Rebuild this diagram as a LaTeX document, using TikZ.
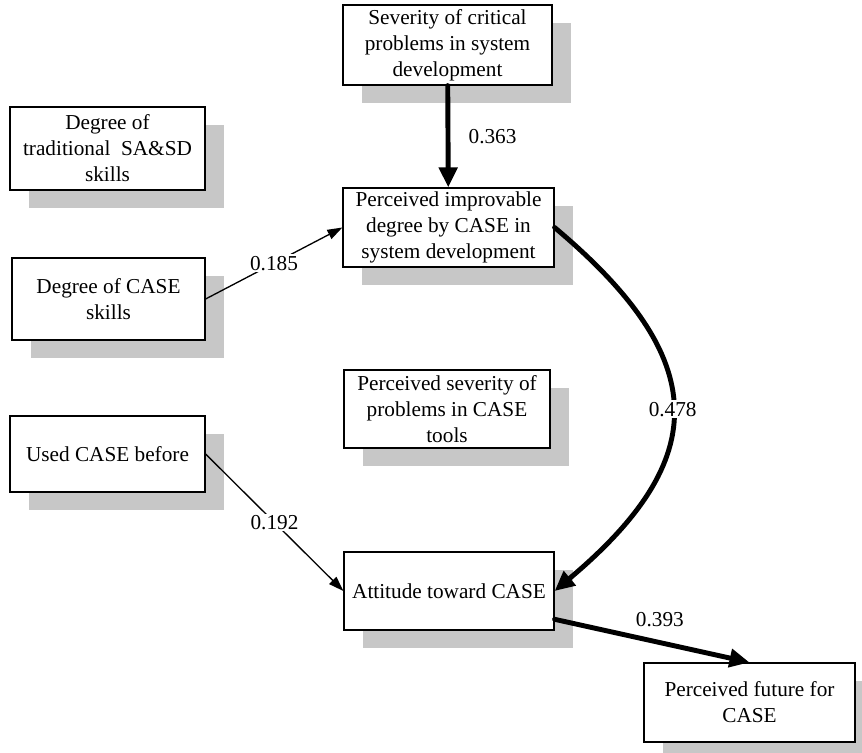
\documentclass[tikz,border=0pt]{standalone}
\usepackage{fontspec}
\setmainfont{Liberation Serif}
\usetikzlibrary{arrows.meta, shadows, positioning}

\begin{document}
\begin{tikzpicture}[x=0.02cm, y=-0.02cm,
    font=\fontsize{12.1}{14.8}\selectfont,
    block/.style={rectangle, draw, line width=0.7pt, fill=white, align=center, inner sep=2pt,
        drop shadow={shadow xshift=0.38cm, shadow yshift=-0.36cm, fill=black!22, opacity=1}},
    arrow/.style={line width=0.75pt, -{Triangle[length=0.3cm, width=0.2cm]}},
    thickarrow/.style={line width=2.8pt, line cap=round, -{Triangle[length=0.4cm, width=0.36cm]}},
    coef/.style={fill=white, inner sep=1pt}]
    \useasboundingbox (0,0) rectangle (862,753);
    \node [block, minimum width=4.18cm, minimum height=1.6cm] (sev) at (447.5,45) {Severity of critical\\problems in system\\development};
    \node [block, minimum width=3.9cm, minimum height=1.66cm] (trad) at (107.5,148.5) {Degree of\\traditional\ \ SA\&SD\\skills};
    \node [block, minimum width=4.22cm, minimum height=1.58cm] (impr) at (448.5,227.5) {Perceived improvable\\degree by CASE in\\system development};
    \node [block, minimum width=3.86cm, minimum height=1.64cm] (skill) at (108.5,299) {Degree of CASE\\skills};
    \node [block, minimum width=4.12cm, minimum height=1.56cm] (tools) at (447,409) {Perceived severity of\\problems in CASE\\tools};
    \node [block, minimum width=3.9cm, minimum height=1.52cm] (used) at (107.5,454) {Used CASE before};
    \node [block, minimum width=4.2cm, minimum height=1.56cm] (att) at (449,591) {Attitude toward CASE};
    \node [block, minimum width=4.22cm, minimum height=1.58cm] (fut) at (749.5,702.5) {Perceived future for\\CASE};
    \draw [thickarrow] (sev) -- node [right=7pt] {0.363} (impr);
    \draw [arrow] (skill.east) -- node [coef] {0.185} (impr.west);
    \draw [arrow] (used.east) -- node [coef] {0.192} (att.west);
    \draw [thickarrow] (impr.east) to [out=-40, in=40, looseness=1.45] node [coef] {0.478} (att.east);
    \draw [thickarrow] (att.-15) -- node [pos=0.54, above=4pt] {0.393} (fut.north);
\end{tikzpicture}
\end{document}
